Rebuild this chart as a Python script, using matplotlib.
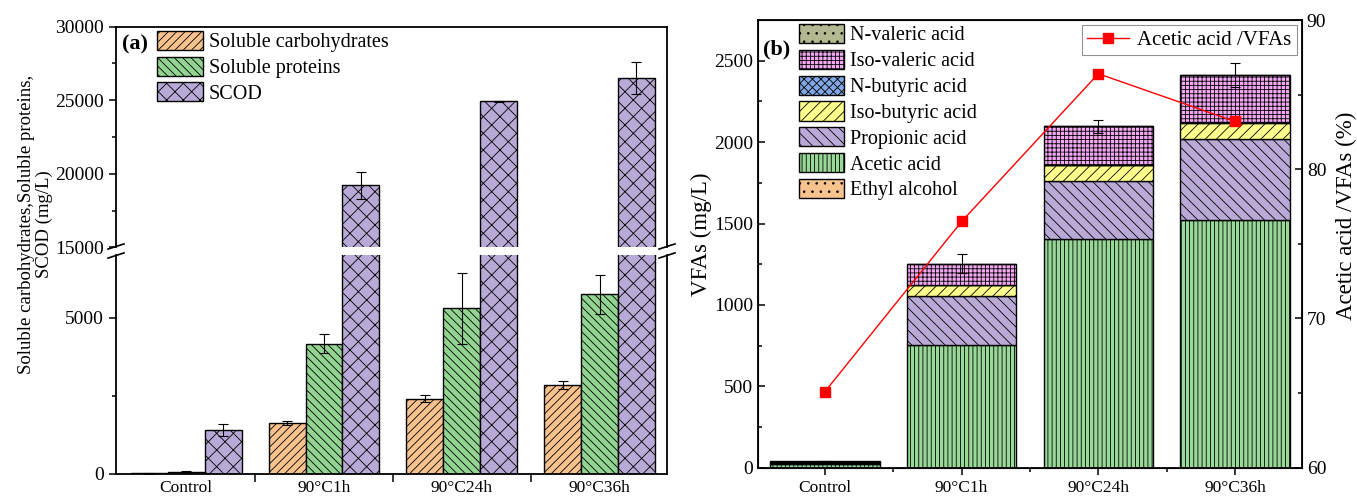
import matplotlib
matplotlib.use("Agg")
import matplotlib.pyplot as plt
from matplotlib.lines import Line2D
import numpy as np

plt.rcParams['font.family'] = ['Liberation Serif', 'DejaVu Serif']
plt.rcParams['hatch.linewidth'] = 0.6
plt.rcParams['hatch.color'] = 'black'

groups = ["Control", "90°C1h", "90°C24h", "90°C36h"]

# (a) soluble organics (mg/L)
carbs = [20, 1630, 2400, 2840]
carbs_err = [10, 70, 110, 120]
proteins = [75, 4170, 5290, 5750]
proteins_err = [30, 300, 1130, 620]
scod = [1400, 19210, 24920, 26510]
scod_err = [190, 940, 30, 1110]

# (b) VFAs (mg/L), stacked from bottom to top
ethanol = [0, 0, 0, 0]
acetic = [22, 755, 1405, 1524]
propionic = [8, 300, 358, 492]
isobutyric = [3, 65, 98, 100]
nbutyric = [3, 0, 0, 8]
isovaleric = [2, 133, 235, 288]
nvaleric = [2, 0, 0, 0]
vfa_err = [3, 60, 40, 75]
acetic_ratio = [65.1, 76.5, 86.4, 83.2]   # %

W, H = 1357, 499
fig = plt.figure(figsize=(W / 100, H / 100), dpi=100)

leg_kw = dict(frameon=False, fontsize=14.5, handlelength=2.25, handleheight=1.08,
              labelspacing=0.22, handletextpad=0.3, borderpad=0.2,
              borderaxespad=0.0)

# ---------- panel (a) with broken y axis ----------
ax_lo = fig.add_axes([116 / W, (H - 474) / H, 551 / W, 219 / H])
ax_hi = fig.add_axes([116 / W, (H - 247.3) / H, 551 / W, 220.6 / H])

x = np.arange(len(groups))
bw = 0.268
series_a = [
    (carbs, carbs_err, "#F8C28F", "////", "Soluble carbohydrates", -bw),
    (proteins, proteins_err, "#93D493", "\\\\\\\\", "Soluble proteins", 0),
    (scod, scod_err, "#B9A9D6", "xx", "SCOD", bw),
]
for ax in (ax_lo, ax_hi):
    for vals, err, col, hat, lab, off in series_a:
        ax.bar(x + off, vals, bw, color=col, edgecolor="black", linewidth=1.0,
               hatch=hat, label=lab)
        ax.errorbar(x + off, vals, yerr=err, fmt="none", ecolor="black",
                    elinewidth=0.8, capsize=3.5, capthick=0.8)
    ax.set_xlim(-0.51, 3.49)
    for s in ax.spines.values():
        s.set_linewidth(1.3)
    ax.tick_params(axis="y", direction="out", labelsize=14, width=1.1, length=5)
    ax.tick_params(axis="y", which="minor", direction="out", width=1.1, length=3)

ax_lo.set_ylim(0, 7000)
ax_lo.set_yticks([0, 5000])
ax_lo.set_yticks([2500], minor=True)
ax_lo.spines["top"].set_visible(False)
ax_lo.set_xticks(x, groups)
ax_lo.set_xticks([0.5, 1.5, 2.5], minor=True)
ax_lo.tick_params(axis="x", which="major", length=0, pad=4, labelsize=12.5)
ax_lo.tick_params(axis="x", which="minor", direction="out", length=6, width=1.1)

ax_hi.set_ylim(15000, 30000)
ax_hi.set_yticks([15000, 20000, 25000, 30000])
ax_hi.set_yticks([17500, 22500, 27500], minor=True)
ax_hi.spines["bottom"].set_visible(False)
ax_hi.set_xticks([])

# break marks
dx, dy = 8 / W, 2.6 / H
for xs in (116 / W, 667 / W):
    for ys in ((H - 246.5) / H, (H - 255.5) / H):
        fig.add_artist(Line2D([xs - dx, xs + dx], [ys - dy, ys + dy],
                              color="black", lw=1.2, transform=fig.transFigure))

ax_hi.text(0.01, 0.92, "(a)", transform=ax_hi.transAxes, fontsize=16,
           fontweight="bold", va="center", ha="left")
ax_hi.legend(loc="upper left", bbox_to_anchor=(0.068, 1.0), **leg_kw)
fig.text(0.026, 0.55, "Soluble carbohydrates,Soluble proteins,\nSCOD (mg/L)",
         rotation=90, ha="center", va="center", fontsize=13.5, linespacing=1.05,
         multialignment="center")

# ---------- panel (b) stacked VFAs ----------
axb = fig.add_axes([758 / W, (H - 467.7) / H, 544 / W, 447.7 / H])
stack = [
    (ethanol, "#F8C28F", "..", "Ethyl alcohol"),
    (acetic, "#98D898", "||||", "Acetic acid"),
    (propionic, "#B9A9D6", "\\\\\\", "Propionic acid"),
    (isobutyric, "#FFFF8C", "///", "Iso-butyric acid"),
    (nbutyric, "#80A8E6", "xxxx", "N-butyric acid"),
    (isovaleric, "#F4A8F4", "++++", "Iso-valeric acid"),
    (nvaleric, "#B4B890", "..", "N-valeric acid"),
]
bottom = np.zeros(len(groups))
handles = []
for vals, col, hat, lab in stack:
    h = axb.bar(x, vals, 0.8, bottom=bottom, color=col, edgecolor="black",
                linewidth=1.0, hatch=hat, label=lab)
    handles.append(h)
    bottom = bottom + np.array(vals)
axb.errorbar(x, bottom, yerr=vfa_err, fmt="none", ecolor="black",
             elinewidth=0.8, capsize=3.5, capthick=0.8)
axb.set_xlim(-0.49, 3.49)
axb.set_ylim(0, 2750)
axb.set_yticks([0, 500, 1000, 1500, 2000, 2500])
axb.set_yticks(np.arange(250, 2750, 500), minor=True)
axb.set_xticks(x, groups)
axb.set_xticks([0.5, 1.5, 2.5], minor=True)
axb.tick_params(axis="x", which="major", direction="out", length=5, width=1.1,
                pad=3.5, labelsize=12.5)
axb.tick_params(axis="x", which="minor", direction="out", length=3, width=1.1)
axb.tick_params(axis="y", which="major", direction="in", length=5, width=1.1,
                labelsize=14)
axb.tick_params(axis="y", which="minor", direction="in", length=3, width=1.1)
for s in axb.spines.values():
    s.set_linewidth(1.3)
axb.set_ylabel("VFAs (mg/L)", fontsize=16.5)
axb.yaxis.set_label_coords(-0.084, 0.522)
axb.text(0.01, 0.935, "(b)", transform=axb.transAxes, fontsize=16,
         fontweight="bold", va="center", ha="left")
axb.legend(handles[::-1], [s[3] for s in stack][::-1], loc="upper left",
           bbox_to_anchor=(0.068, 1.0), **leg_kw)

ax2 = axb.twinx()
ax2.plot(x, acetic_ratio, color="red", lw=1.0, marker="s", markersize=7,
         label="Acetic acid /VFAs")
ax2.set_ylim(60, 90)
ax2.set_yticks([60, 70, 80, 90])
ax2.set_yticks([65, 75, 85], minor=True)
ax2.tick_params(axis="y", which="major", direction="in", length=5, width=1.1,
                labelsize=14)
ax2.tick_params(axis="y", which="minor", direction="in", length=3, width=1.1)
ax2.set_ylabel("Acetic acid /VFAs (%)", fontsize=16.5)
ax2.yaxis.set_label_coords(1.062, 0.562)
leg2 = ax2.legend(loc="upper right", fontsize=15, fancybox=False,
                  borderaxespad=0.25, handlelength=2.0, borderpad=0.25,
                  handletextpad=0.4)
leg2.get_frame().set_edgecolor("#777777")
leg2.get_frame().set_linewidth(0.8)

fig.savefig("out.png", dpi=100)
